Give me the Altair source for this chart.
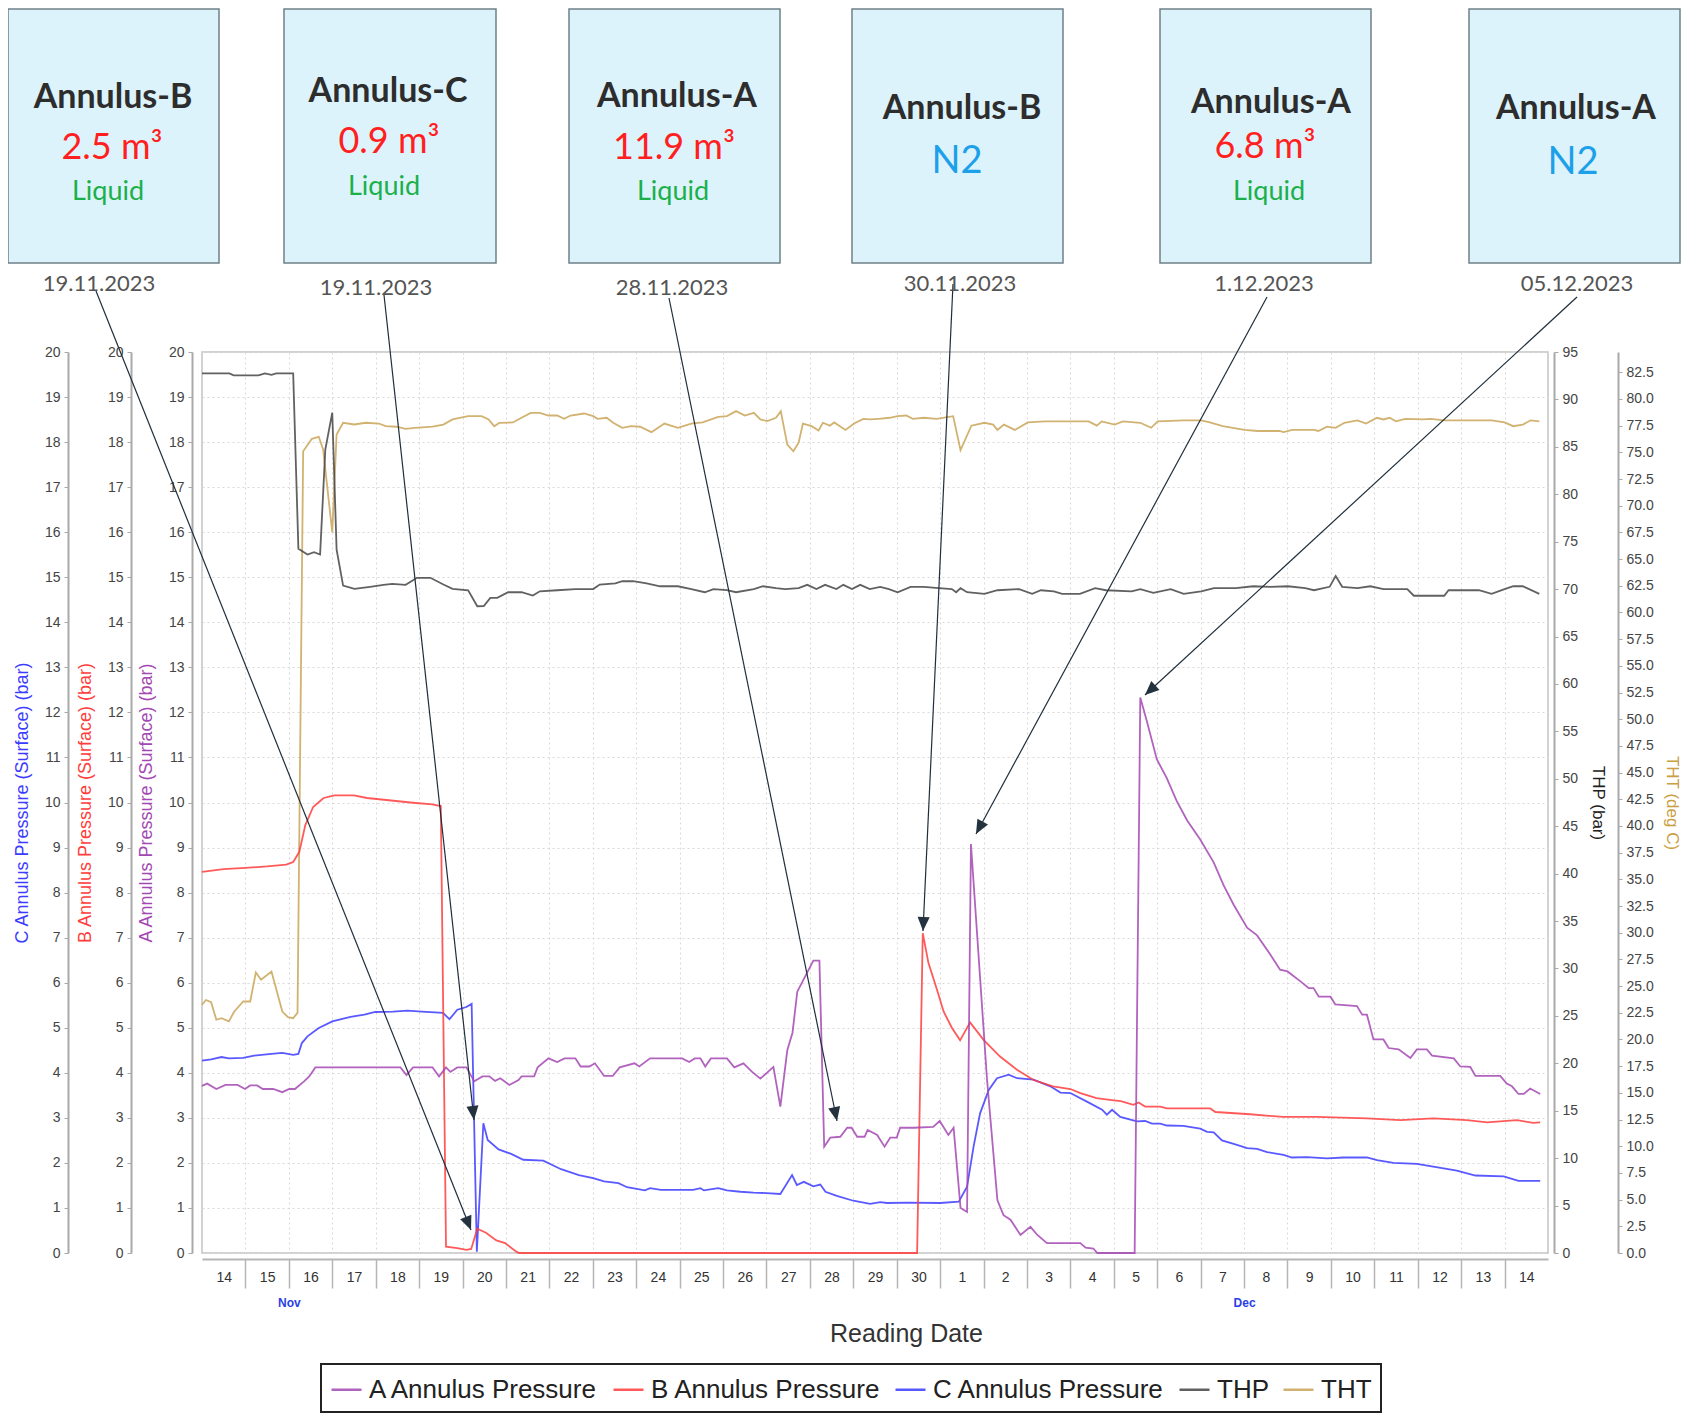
import math
import altair as alt
import pandas as pd

# ---------------------------------------------------------------- data
SERIES = ["A Annulus Pressure", "B Annulus Pressure", "C Annulus Pressure", "THP", "THT"]
COLORS = ["#a348b3", "#ff3d3d", "#3c3cff", "#454545", "#c9a458"]
START = pd.Timestamp("2023-11-14")  # day offsets below count from this midnight

A_t = [0.0, 0.12, 0.33, 0.54, 0.82, 0.99, 1.11, 1.27, 1.40, 1.64, 1.85, 2.01, 2.14, 2.35, 2.47, 2.61,
       4.57, 4.71, 4.86, 5.31, 5.46, 5.62, 5.72, 5.88, 6.09, 6.27, 6.46, 6.62, 6.75, 6.87, 7.08, 7.29,
       7.36, 7.65, 7.73, 7.98, 8.18, 8.35, 8.60, 8.72, 8.92, 9.05, 9.26, 9.46, 9.62, 9.96, 10.07, 10.32,
       10.57, 11.06, 11.22, 11.35, 11.48, 11.59, 11.72, 12.09, 12.26, 12.47, 12.67, 12.86, 13.16, 13.32,
       13.48, 13.60, 13.71, 14.08, 14.22, 14.33, 14.47, 14.70, 14.86, 14.96, 15.09, 15.26, 15.33, 15.55,
       15.72, 15.85, 16.00, 16.08, 16.39, 16.84, 16.99, 17.19, 17.31, 17.47, 17.62, 17.71, 18.08, 18.32,
       18.46, 18.62, 18.85, 19.08, 19.24, 19.46, 20.23, 20.35, 20.53, 20.62, 21.48, 21.61, 21.76, 21.99,
       22.22, 22.45, 22.69, 22.99, 23.30, 23.53, 23.76, 24.07, 24.30, 24.60, 24.83, 25.00, 25.30, 25.49,
       25.60, 25.72, 25.99, 26.10, 26.60, 26.72, 26.83, 26.98, 27.21, 27.33, 27.56, 27.83, 27.98, 28.21,
       28.33, 28.83, 28.98, 29.21, 29.33, 29.90, 30.05, 30.17, 30.32, 30.44, 30.59, 30.82]
A_v = [3.71, 3.76, 3.64, 3.73, 3.73, 3.64, 3.72, 3.72, 3.64, 3.64, 3.57, 3.64, 3.64, 3.81, 3.92, 4.12,
       4.12, 3.95, 4.12, 4.12, 3.92, 4.12, 4.02, 4.12, 4.12, 3.81, 3.92, 3.92, 3.82, 3.88, 3.73, 3.84,
       3.92, 3.92, 4.12, 4.32, 4.24, 4.32, 4.32, 4.14, 4.14, 4.21, 3.93, 3.93, 4.12, 4.21, 4.14, 4.32,
       4.32, 4.32, 4.24, 4.32, 4.32, 4.14, 4.32, 4.32, 4.12, 4.21, 4.02, 3.87, 4.13, 3.25,
       4.50, 4.89, 5.80, 6.49, 6.49, 2.36, 2.56, 2.58, 2.78, 2.78, 2.58, 2.58, 2.73, 2.62,
       2.36, 2.56, 2.56, 2.78, 2.78, 2.80, 2.93, 2.62, 2.78, 1.00, 0.91, 9.08, 3.85, 1.17,
       0.84, 0.74, 0.40, 0.58, 0.40, 0.22, 0.22, 0.12, 0.10, 0.0, 0.0, 12.33, 11.81, 10.96,
       10.54, 10.03, 9.60, 9.18, 8.67, 8.16, 7.73, 7.22, 7.05, 6.63, 6.29, 6.25, 6.03, 5.88,
       5.88, 5.69, 5.69, 5.52, 5.48, 5.29, 5.29, 4.74, 4.74, 4.55, 4.52, 4.33, 4.52, 4.52,
       4.38, 4.32, 4.14, 4.13, 3.93, 3.93, 3.76, 3.70, 3.53, 3.53, 3.65, 3.53]

B_t = [0.0, 0.5, 1.0, 1.5, 1.94, 2.10, 2.24, 2.38, 2.56, 2.80, 3.05, 3.50, 3.80, 4.30, 4.80, 5.30,
       5.50, 5.62, 5.88, 6.09, 6.20, 6.34, 6.54, 6.78, 6.98, 7.24, 7.30, 16.47, 16.60, 16.73, 16.93,
       17.08, 17.27, 17.46, 17.69, 18.00, 18.38, 18.77, 19.15, 19.60, 20.00, 20.23, 20.60, 21.00,
       21.16, 21.45, 21.57, 21.72, 22.07, 22.22, 23.22, 23.34, 24.14, 24.90, 25.68, 26.83, 27.60,
       28.36, 29.13, 29.60, 30.28, 30.66, 30.82]
B_v = [8.46, 8.52, 8.55, 8.58, 8.62, 8.68, 8.90, 9.50, 9.90, 10.10, 10.16, 10.16, 10.10, 10.05, 10.0, 9.96,
       9.92, 0.14, 0.11, 0.07, 0.09, 0.54, 0.45, 0.28, 0.22, 0.03, 0.0, 0.0, 7.10, 6.44, 5.84,
       5.36, 5.00, 4.72, 5.12, 4.73, 4.36, 4.07, 3.84, 3.70, 3.64, 3.55, 3.44, 3.39,
       3.37, 3.29, 3.34, 3.25, 3.25, 3.21, 3.21, 3.13, 3.08, 3.02, 3.02, 2.99, 2.95,
       2.99, 2.95, 2.90, 2.95, 2.89, 2.90]

C_t = [0.0, 0.21, 0.45, 0.62, 0.95, 1.20, 1.60, 1.85, 2.10, 2.22, 2.30, 2.43, 2.68, 3.00, 3.42, 3.74,
       3.99, 4.40, 4.73, 5.06, 5.55, 5.70, 5.88, 6.09, 6.21, 6.33, 6.48, 6.58, 6.83, 7.12, 7.40, 7.86,
       8.27, 8.68, 9.01, 9.26, 9.59, 9.79, 10.20, 10.32, 10.57, 11.31, 11.48, 11.56, 11.89, 12.09,
       12.40, 12.70, 13.00, 13.32, 13.59, 13.70, 13.86, 14.08, 14.24, 14.36, 14.62, 15.00, 15.39,
       15.62, 15.78, 16.24, 17.00, 17.43, 17.62, 17.77, 17.92, 18.12, 18.31, 18.58, 18.77, 19.15,
       19.54, 19.77, 20.00, 20.38, 20.73, 20.84, 20.96, 21.15, 21.53, 21.72, 21.88, 22.07, 22.22,
       22.60, 22.99, 23.15, 23.30, 23.49, 23.76, 24.07, 24.30, 24.53, 24.91, 25.10, 25.45, 25.91,
       26.29, 26.83, 27.06, 27.44, 27.98, 28.29, 28.90, 29.33, 29.98, 30.32, 30.82]
C_v = [4.27, 4.30, 4.35, 4.32, 4.33, 4.38, 4.42, 4.44, 4.40, 4.42, 4.66, 4.81, 4.99, 5.14, 5.24, 5.29,
       5.35, 5.36, 5.38, 5.36, 5.33, 5.19, 5.40, 5.46, 5.53, 0.03, 2.88, 2.51, 2.30, 2.20, 2.07, 2.05,
       1.86, 1.73, 1.66, 1.59, 1.55, 1.46, 1.39, 1.44, 1.40, 1.40, 1.44, 1.39, 1.44, 1.39,
       1.36, 1.34, 1.33, 1.31, 1.73, 1.51, 1.58, 1.48, 1.52, 1.36, 1.27, 1.16, 1.09,
       1.13, 1.11, 1.12, 1.11, 1.14, 1.47, 2.36, 3.10, 3.62, 3.88, 3.96, 3.88, 3.85,
       3.70, 3.56, 3.55, 3.36, 3.18, 3.07, 3.18, 3.02, 2.92, 2.93, 2.87, 2.87, 2.83,
       2.82, 2.76, 2.69, 2.68, 2.50, 2.42, 2.33, 2.31, 2.24, 2.18, 2.12, 2.13, 2.10,
       2.12, 2.12, 2.06, 2.00, 1.98, 1.93, 1.83, 1.72, 1.70, 1.60, 1.60]

THP_t = [0.0, 0.63, 0.73, 1.30, 1.45, 1.60, 1.71, 2.10, 2.22, 2.43, 2.58, 2.72, 2.84, 3.00, 3.10, 3.25,
         3.51, 3.87, 4.18, 4.38, 4.69, 4.95, 5.26, 5.56, 5.77, 6.13, 6.34, 6.49, 6.64, 6.80, 7.05, 7.36,
         7.62, 7.78, 8.18, 8.60, 9.01, 9.16, 9.52, 9.68, 9.93, 10.24, 10.55, 10.96, 11.27, 11.58, 11.78,
         12.09, 12.30, 12.71, 12.92, 13.22, 13.43, 13.74, 13.94, 14.15, 14.35, 14.61, 14.77, 14.97,
         15.16, 15.38, 15.62, 15.82, 16.02, 16.32, 16.62, 16.97, 17.27, 17.37, 17.47, 17.62, 18.02,
         18.32, 18.82, 19.12, 19.32, 19.62, 19.81, 20.22, 20.57, 20.82, 21.41, 21.61, 21.91, 22.31,
         22.61, 23.01, 23.31, 23.81, 24.21, 24.61, 25.01, 25.41, 25.61, 25.97, 26.11, 26.26, 26.61,
         26.91, 27.21, 27.76, 27.91, 28.21, 28.61, 28.71, 29.41, 29.70, 30.00, 30.20, 30.42, 30.80]
THP_v = [92.74, 92.74, 92.53, 92.53, 92.74, 92.60, 92.74, 92.74, 74.25, 73.65, 73.90, 73.65, 84.72, 88.60,
         74.17, 70.37, 70.02, 70.24, 70.45, 70.56, 70.45, 71.19, 71.19, 70.48, 70.02, 69.88, 68.19, 68.20,
         69.08, 69.08, 69.67, 69.67, 69.32, 69.77, 69.88, 70.0, 70.0, 70.48, 70.60, 70.83, 70.83, 70.60,
         70.30, 70.30, 70.0, 69.67, 70.0, 69.90, 69.67, 70.0, 70.30, 70.10, 70.0, 70.10, 70.45, 70.0,
         70.45, 70.0, 70.45, 70.0, 70.45, 70.0, 70.24, 70.0, 69.67, 70.24, 70.24, 70.10, 70.0, 69.67,
         70.10, 69.67, 69.50, 69.88, 70.0, 69.50, 69.88, 69.77, 69.50, 69.50, 70.10, 69.88, 69.77, 70.0,
         69.60, 70.0, 69.50, 69.77, 70.10, 70.10, 70.30, 70.24, 70.30, 70.10, 69.88, 70.24, 71.37, 70.24,
         70.10, 70.30, 70.0, 70.0, 69.30, 69.30, 69.30, 69.88, 69.88, 69.50, 70.0, 70.30, 70.30, 69.50]

THT_t = [0.0, 0.09, 0.21, 0.33, 0.45, 0.62, 0.74, 0.95, 1.11, 1.24, 1.36, 1.60, 1.85, 1.98, 2.10, 2.20,
         2.33, 2.53, 2.69, 2.79, 3.00, 3.10, 3.25, 3.51, 3.77, 4.07, 4.23, 4.48, 4.69, 4.90, 5.31, 5.56,
         5.77, 6.13, 6.44, 6.60, 6.73, 6.85, 7.16, 7.36, 7.57, 7.78, 7.98, 8.18, 8.34, 8.49, 8.80, 9.01,
         9.11, 9.32, 9.47, 9.68, 9.88, 10.09, 10.35, 10.65, 10.96, 11.27, 11.53, 11.89, 12.09, 12.30,
         12.50, 12.71, 12.86, 13.02, 13.22, 13.33, 13.48, 13.62, 13.74, 13.84, 14.04, 14.20, 14.30,
         14.46, 14.56, 14.82, 15.02, 15.23, 15.38, 15.58, 15.84, 16.02, 16.22, 16.37, 16.62, 16.92,
         17.30, 17.47, 17.72, 18.02, 18.22, 18.32, 18.47, 18.72, 19.02, 19.42, 20.42, 20.61, 20.72,
         21.02, 21.21, 21.61, 21.86, 22.01, 22.61, 23.01, 23.21, 23.51, 24.01, 24.31, 24.81, 24.91,
         25.11, 25.61, 25.71, 25.91, 26.11, 26.31, 26.61, 26.81, 27.06, 27.21, 27.35, 27.50, 27.71,
         28.11, 28.30, 28.61, 29.70, 30.00, 30.20, 30.42, 30.60, 30.80]
THT_v = [23.25, 23.70, 23.50, 21.85, 22.00, 21.70, 22.60, 23.56, 23.56, 26.28, 25.60, 26.37, 22.62, 22.10,
         22.00, 22.50, 75.10, 76.27, 76.46, 75.27, 67.50, 76.67, 77.77, 77.61, 77.77, 77.70, 77.45, 77.40,
         77.20, 77.30, 77.40, 77.60, 78.08, 78.39, 78.39, 78.08, 77.45, 77.77, 77.80, 78.24, 78.70, 78.70,
         78.45, 78.45, 78.14, 78.45, 78.64, 78.39, 78.14, 78.24, 77.77, 77.30, 77.45, 77.40, 76.89, 77.70,
         77.30, 77.70, 77.80, 78.33, 78.39, 78.86, 78.45, 78.70, 78.08, 77.92, 78.24, 78.86, 75.73, 75.10,
         75.90, 77.70, 77.45, 77.05, 77.77, 77.50, 77.80, 77.10, 77.70, 78.14, 78.08, 78.14, 78.24, 78.39,
         78.45, 78.14, 78.24, 78.14, 78.39, 75.20, 77.50, 77.77, 77.60, 77.10, 77.60, 77.10, 77.80, 77.90,
         77.90, 77.50, 77.90, 77.60, 77.90, 77.77, 77.30, 77.90, 78.0, 78.0, 77.80, 77.45, 77.10, 77.0,
         77.0, 76.90, 77.10, 77.10, 77.0, 77.40, 77.30, 77.77, 78.0, 77.70, 78.24, 78.08, 78.24, 77.90,
         78.14, 78.08, 78.14, 78.0, 78.0, 77.80, 77.45, 77.60, 78.0, 77.90]

# annotation content
BOX_TITLE = ["Annulus-B", "Annulus-C", "Annulus-A", "Annulus-B", "Annulus-A", "Annulus-A"]
BOX_VALUE = ["2.5 m³", "0.9 m³", "11.9 m³", "N2", "6.8 m³", "N2"]
BOX_STATE = ["Liquid", "Liquid", "Liquid", "", "Liquid", ""]
BOX_DATE = ["19.11.2023", "19.11.2023", "28.11.2023", "30.11.2023", "1.12.2023", "05.12.2023"]

# ---------------------------------------------------------------- layout (page pixels)
W, H = 1346, 901
OX, OY = 202, 352            # plot-area origin on the page
BOX_X1 = [8, 284, 569, 852, 1160, 1469]
BOX_X2 = [219, 496, 780, 1063, 1371, 1680]
BOX_Y1, BOX_Y2 = 9, 263
TITLE_X = [113, 388, 677, 962, 1271, 1576]
TITLE_Y = [108, 102, 107, 119, 113, 119]
VALUE_X = [112, 389, 674, 957, 1265, 1573]
VALUE_Y = [159, 153, 159, 173, 158, 174]
STATE_X = [108, 384, 673, 0, 1269, 0]
STATE_Y = [200, 195, 200, 0, 200, 0]
DATE_X = [99, 376, 672, 960, 1264, 1577]
DATE_Y = [291, 295, 295, 291, 291, 291]
ARROW_TAIL = [(96, 291), (384, 295), (669, 298), (953, 284), (1267, 297), (1577, 297)]
ARROW_TIP = [(471, 1230), (474, 1120), (837, 1121), (923, 931), (976, 834), (1145, 695)]

FONT = "Liberation Sans"
BOXFONT = "Lato"


def series_df(name, t, v):
    times = [(START + pd.Timedelta(days=d)).strftime("%Y-%m-%dT%H:%M:%S") for d in t]
    return pd.DataFrame({"time": times, "value": v, "series": name})


def DT(m, d, h=0):
    return alt.DateTime(year=2023, month=m, date=d, hours=h)


x_scale = alt.Scale(domain=[DT(11, 14), DT(12, 15)])
color_scale = alt.Scale(domain=SERIES, range=COLORS)
legend = alt.Legend(title=None, orient="none", legendX=119, legendY=1012, direction="horizontal",
                    symbolType="stroke", symbolStrokeWidth=2.5, symbolSize=900,
                    labelFont=FONT, labelFontSize=26, labelColor="#222222", labelLimit=600,
                    labelOffset=6, columnPadding=9, padding=9, strokeColor="#222222",
                    fillColor="white")

days = pd.date_range("2023-11-14", "2023-12-14")
midnights = [DT(d.month, d.day) for d in days[1:]]
noons = [DT(d.month, d.day, 12) for d in days]

ax_sep = alt.Axis(orient="bottom", offset=6, values=midnights, labels=False, ticks=True, tickSize=29,
                  tickColor="#b5b5b5", tickWidth=1.5, domain=True, domainColor="#b5b5b5", domainWidth=2,
                  grid=True, gridColor="#d9d9d9", gridDash=[2, 3], gridWidth=1, title=None)
ax_day = alt.Axis(orient="bottom", offset=6, values=noons, format="%-d", ticks=False, domain=False,
                  grid=False, labelFont=FONT, labelFontSize=14, labelColor="#333333", labelPadding=11,
                  labelOverlap=False, labelFlush=False, title="Reading Date", titleFont=FONT,
                  titleFontSize=25, titleFontWeight="normal", titleColor="#333333", titleX=704,
                  titleY=74, titleBaseline="middle")
ax_mon = alt.Axis(orient="bottom", offset=6, values=[DT(11, 16), DT(12, 8)],
                  labelExpr="timeFormat(datum.value, '%b')", ticks=False, domain=False, grid=False,
                  labelFont=FONT, labelFontSize=12, labelFontWeight="bold", labelColor="#2b3fe6",
                  labelPadding=38, labelOverlap=False, labelFlush=False, title=None)


def yaxis(orient, offset, values, title, tcolor, grid=False, fmt=None, tsize=18, tpad=13):
    kw = dict(orient=orient, offset=offset, values=values, title=title, titleColor=tcolor,
              titleFont=FONT, titleFontSize=tsize, titleFontWeight="normal", titlePadding=tpad,
              labelFont=FONT, labelFontSize=14, labelColor="#444444", labelPadding=4, tickSize=4,
              tickColor="#a9a9a9", domainColor="#a9a9a9", domainWidth=2, grid=grid, labelOverlap=False)
    if grid:
        kw.update(gridColor="#d9d9d9", gridDash=[2, 3], gridWidth=1)
    if fmt:
        kw["format"] = fmt
    return alt.Axis(**kw)


def line_layer(name, t, v, ydomain, yax, xax):
    return alt.Chart(series_df(name, t, v)).mark_line(strokeWidth=1.8, opacity=0.85).encode(
        x=alt.X("time:T", scale=x_scale, axis=xax, title=None),
        y=alt.Y("value:Q", scale=alt.Scale(domain=ydomain, nice=False, zero=True), axis=yax),
        color=alt.Color("series:N", scale=color_scale, legend=legend),
    )


bar_ticks = list(range(0, 21))
tht = line_layer("THT", THT_t, THT_v, [0, 84.4],
                 yaxis("right", 70, [i * 2.5 for i in range(34)], "THT (deg C)", "#c9a040", fmt=".1f",
                       tsize=17, tpad=9),
                 ax_sep)
thp = line_layer("THP", THP_t, THP_v, [0, 95],
                 yaxis("right", 6, list(range(0, 96, 5)), "THP (bar)", "#222222", tsize=17, tpad=11),
                 ax_day)
cly = line_layer("C Annulus Pressure", C_t, C_v, [0, 20],
                 yaxis("left", 134, bar_ticks, "C Annulus Pressure (Surface) (bar)", "#3c3cff"), ax_mon)
bly = line_layer("B Annulus Pressure", B_t, B_v, [0, 20],
                 yaxis("left", 71, bar_ticks, "B Annulus Pressure (Surface) (bar)", "#ff3d3d"), None)
aly = line_layer("A Annulus Pressure", A_t, A_v, [0, 20],
                 yaxis("left", 10, bar_ticks, "A Annulus Pressure (Surface) (bar)", "#a348b3", grid=True),
                 None)

# ---------------------------------------------------------------- annotations (pixel space)
px = lambda name: alt.X(f"{name}:Q", scale=None, axis=None)
py = lambda name: alt.Y(f"{name}:Q", scale=None, axis=None)

boxes = pd.DataFrame({"x1": [x - OX for x in BOX_X1], "x2": [x - OX for x in BOX_X2],
                      "y1": [BOX_Y1 - OY] * 6, "y2": [BOX_Y2 - OY] * 6})
box_layer = alt.Chart(boxes).mark_rect(fill="#ddf3fc", stroke="#6f8087", strokeWidth=1.5).encode(
    x=px("x1"), x2="x2:Q", y=py("y1"), y2="y2:Q")


def text_df(labels, xs, ys):
    rows = [(l, x - OX, y - OY) for l, x, y in zip(labels, xs, ys) if l]
    return pd.DataFrame(rows, columns=["label", "x", "y"])


def text_layer(df, size, color, weight="normal", font=BOXFONT):
    return alt.Chart(df).mark_text(font=font, fontSize=size, fontWeight=weight, color=color,
                                   align="center", baseline="alphabetic").encode(
        x=px("x"), y=py("y"), text="label:N")


titles = text_layer(text_df(BOX_TITLE, TITLE_X, TITLE_Y), 34, "#2d2d2d", "bold")
vol_idx = [i for i, v in enumerate(BOX_VALUE) if v != "N2"]
n2_idx = [i for i, v in enumerate(BOX_VALUE) if v == "N2"]
vols = text_layer(text_df([BOX_VALUE[i] for i in vol_idx], [VALUE_X[i] for i in vol_idx],
                          [VALUE_Y[i] for i in vol_idx]), 36, "#ff1f1f")
n2s = text_layer(text_df([BOX_VALUE[i] for i in n2_idx], [VALUE_X[i] for i in n2_idx],
                         [VALUE_Y[i] for i in n2_idx]), 38, "#1ca0ea")
states = text_layer(text_df(BOX_STATE, STATE_X, STATE_Y), 27, "#1bb04a")
dates = text_layer(text_df(BOX_DATE, DATE_X, DATE_Y), 22, "#555555")

arrows = pd.DataFrame({
    "x": [a[0] - OX for a in ARROW_TAIL], "y": [a[1] - OY for a in ARROW_TAIL],
    "x2": [b[0] - OX for b in ARROW_TIP], "y2": [b[1] - OY for b in ARROW_TIP],
})
arrows["ang"] = [math.degrees(math.atan2(b[0] - a[0], -(b[1] - a[1]))) % 360
                 for a, b in zip(ARROW_TAIL, ARROW_TIP)]
arrow_lines = alt.Chart(arrows).mark_rule(color="#1f2e3c", strokeWidth=1.2).encode(
    x=px("x"), y=py("y"), x2="x2:Q", y2="y2:Q")
arrow_heads = alt.Chart(arrows).mark_point(shape="M0,0L0.75,1.75L-0.75,1.75Z", filled=True,
                                           color="#24323f", opacity=1, size=260, strokeWidth=0).encode(
    x=px("x2"), y=py("y2"), angle=alt.Angle("ang:Q", scale=None))

chart = alt.layer(
    box_layer, tht, thp, cly, bly, aly, arrow_lines, arrow_heads, titles, vols, n2s, states, dates
).resolve_scale(y="independent").resolve_axis(x="independent").properties(
    width=W, height=H,
    padding={"left": 194, "top": 344, "right": 134, "bottom": 160},
    autosize=alt.AutoSizeParams(type="none"),
    background="white",
).configure_view(stroke="#c4c4c4", strokeWidth=1.5).configure_legend(strokeWidth=2)

chart.save("out.html", embed_options={"renderer": "svg", "actions": False})
